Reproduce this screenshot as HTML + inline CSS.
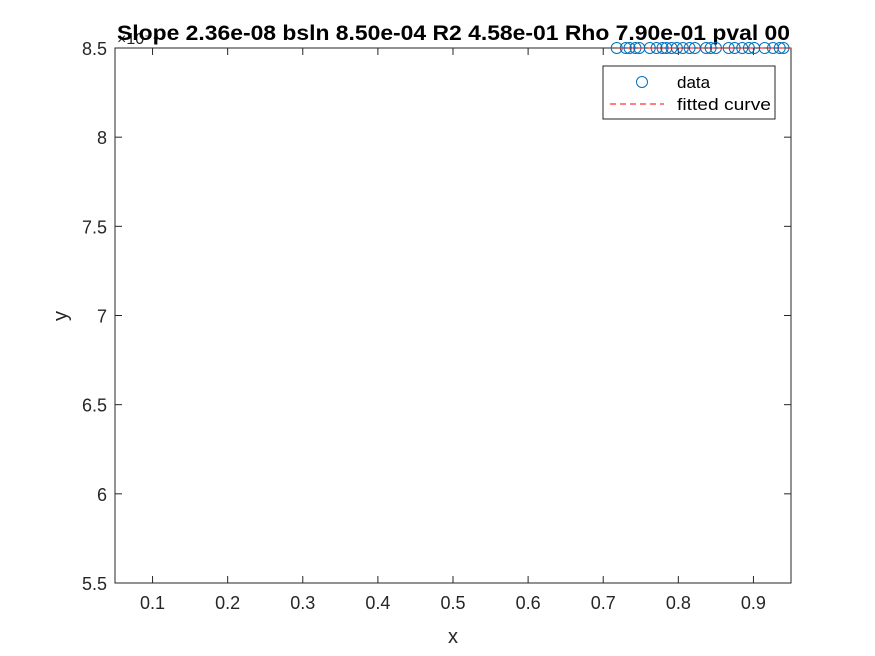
<!DOCTYPE html>
<html><head><meta charset="utf-8"><style>
html,body{margin:0;padding:0;background:#fff;}
svg{display:block;font-family:"Liberation Sans",Arial,sans-serif;}
</style></head><body>
<svg id="chart" width="875" height="656" viewBox="0 0 875 656">
<rect width="875" height="656" fill="#fff"/>
<g id="axes"></g>
<g id="marks"></g>
</svg>
<script>
const xTicks=[0.1,0.2,0.3,0.4,0.5,0.6,0.7,0.8,0.9];
const yTicks=[5.5,6,6.5,7,7.5,8,8.5];
const yTickLabels=["5.5","6","6.5","7","7.5","8","8.5"];
const dataX=[0.718,0.73,0.735,0.743,0.748,0.762,0.771,0.779,0.784,0.791,0.798,0.806,0.815,0.822,0.837,0.843,0.85,0.867,0.875,0.885,0.894,0.901,0.915,0.926,0.935,0.94];
const dataY=[8.5,8.5,8.5,8.5,8.5,8.5,8.5,8.5,8.5,8.5,8.5,8.5,8.5,8.5,8.5,8.5,8.5,8.5,8.5,8.5,8.5,8.5,8.5,8.5,8.5,8.5];
const fitX=[0.72,0.95];
const fitY=[8.5,8.5];
const L=115,R=791,T=48,B=583,xmin=0.05,xmax=0.95,ymin=5.5,ymax=8.5;
const sx=v=>L+(v-xmin)/(xmax-xmin)*(R-L);
const sy=v=>B-(v-ymin)/(ymax-ymin)*(B-T);
const NS="http://www.w3.org/2000/svg";
function mk(tag,attrs,parent,text){const e=document.createElementNS(NS,tag);for(const k in attrs)e.setAttribute(k,attrs[k]);if(text!==undefined)e.textContent=text;parent.appendChild(e);return e;}
const ax=document.getElementById('axes'),mg=document.getElementById('marks');
const box=mk('rect',{x:L,y:T,width:R-L,height:B-T,fill:'none',stroke:'#262626','stroke-width':1},ax);


xTicks.forEach(v=>{const x=sx(v);
mk('line',{x1:x,y1:B,x2:x,y2:B-7,stroke:'#262626'},ax);
mk('line',{x1:x,y1:T,x2:x,y2:T+7,stroke:'#262626'},ax);
const t=mk('text',{x:x,y:B+26,'text-anchor':'middle','font-size':18,fill:'#262626'},ax,String(v));


});
yTicks.forEach((v,i)=>{const y=sy(v);
mk('line',{x1:L,y1:y,x2:L+7,y2:y,stroke:'#262626'},ax);
mk('line',{x1:R,y1:y,x2:R-7,y2:y,stroke:'#262626'},ax);
const t=mk('text',{x:L-8,y:y+7,'text-anchor':'end','font-size':18,fill:'#262626'},ax,yTickLabels[i]);


});
const xl=mk('text',{x:453,y:643,'text-anchor':'middle','font-size':20,fill:'#262626'},ax,'x');


const yl=mk('text',{x:67,y:316,'text-anchor':'middle','font-size':20,fill:'#262626',transform:'rotate(-90 67 316)'},ax,'y');


const ex=mk('text',{x:117,y:44,'font-size':16,fill:'#262626'},ax,'×10⁻⁴');


const ti=mk('text',{x:117,y:40,'font-size':21,'font-weight':'bold',fill:'#000',textLength:673,lengthAdjust:'spacingAndGlyphs'},ax,'Slope 2.36e-08 bsln 8.50e-04 R2 4.58e-01 Rho 7.90e-01 pval 00');


dataX.forEach((v,i)=>{const c=mk('circle',{cx:sx(v),cy:sy(dataY[i]),r:5.5,fill:'none',stroke:'#0072BD','stroke-width':1},mg);


});
const fl=mk('line',{x1:sx(fitX[0]),y1:sy(fitY[0]),x2:sx(fitX[1]),y2:sy(fitY[1]),stroke:'#FF0000','stroke-dasharray':'6 4','stroke-width':1},mg);


const lg=mk('g',{},ax);


mk('rect',{x:603,y:66,width:172,height:53,fill:'#fff',stroke:'#262626'},lg);
mk('circle',{cx:642,cy:82,r:5.5,fill:'none',stroke:'#0072BD'},lg);
const l1=mk('text',{x:677,y:88,'font-size':17,fill:'#000'},lg,'data');


mk('line',{x1:610,y1:104,x2:664,y2:104,stroke:'#FF0000','stroke-dasharray':'6 4'},lg);
const l2=mk('text',{x:677,y:110,'font-size':17,fill:'#000',textLength:94,lengthAdjust:'spacingAndGlyphs'},lg,'fitted curve');


</script>
</body></html>
